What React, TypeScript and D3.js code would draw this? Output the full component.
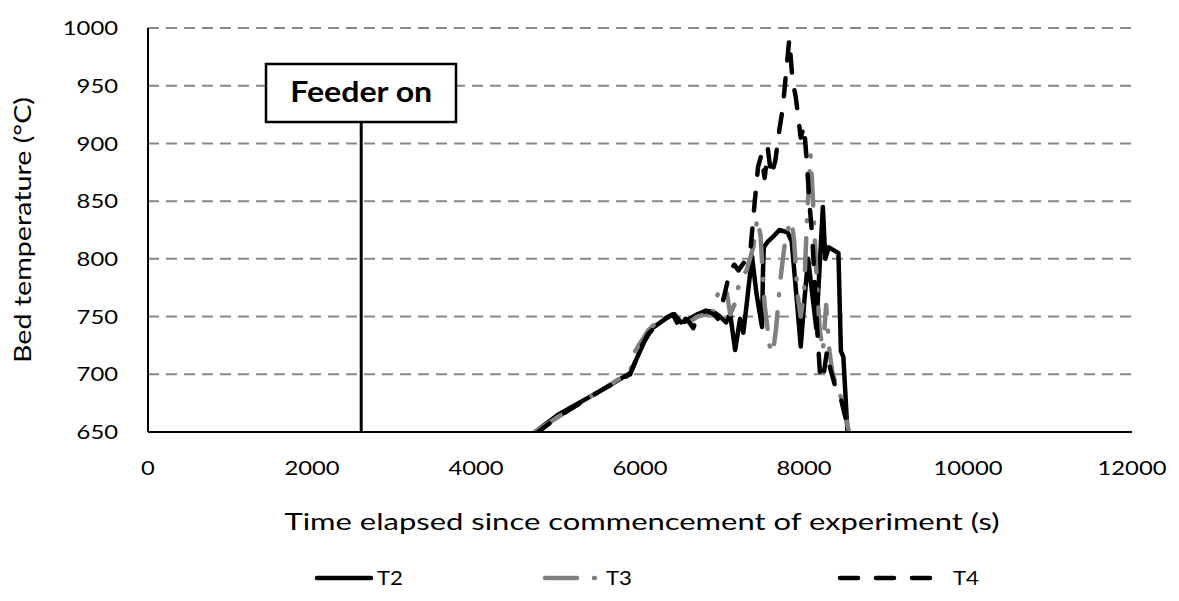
import React from "react";
import * as d3 from "d3";

// ---- data ----
const xTicks = [0, 2000, 4000, 6000, 8000, 10000, 12000];
const yTicks = [650, 700, 750, 800, 850, 900, 950, 1000];
const feederTime = 2600;
const feederLabel = "Feeder on";
const xTitle = "Time elapsed since commencement of experiment (s)";
const yTitle = "Bed temperature (°C)";

const t2Time = [4720, 5000, 5500, 5880, 5950, 6050, 6150, 6250, 6350, 6420, 6500, 6600, 6700, 6800, 6900, 6976, 7050, 7100, 7160, 7220, 7260, 7300, 7366, 7420, 7488, 7500, 7510, 7560, 7620, 7700, 7800, 7850, 7920, 7960, 8000, 8050, 8100, 8150, 8230, 8260, 8300, 8350, 8420, 8450, 8480, 8530];
const t2Temp = [650, 665, 685, 701, 712, 728, 740, 745, 750, 752, 745, 748, 752, 755, 754, 750, 745, 752, 721, 748, 736, 760, 802, 770, 741, 790, 810, 815, 819, 825, 823, 815, 758, 724, 760, 800, 770, 740, 845, 800, 810, 808, 805, 720, 715, 650];

const t3Time = [4720, 5000, 5500, 5880, 5940, 6000, 6100, 6200, 6300, 6420, 6500, 6600, 6700, 6800, 6900, 6950, 7010, 7060, 7100, 7150, 7220, 7300, 7380, 7430, 7470, 7520, 7580, 7620, 7660, 7707, 7760, 7800, 7850, 7880, 7920, 7960, 8000, 8040, 8080, 8110, 8150, 8190, 8230, 8270, 8310, 8350, 8400, 8450, 8500, 8550];
const t3Temp = [650, 663, 685, 702, 720, 727, 738, 745, 748, 752, 750, 745, 750, 752, 755, 770, 776, 770, 752, 760, 782, 790, 810, 835, 820, 760, 725, 718, 740, 779, 810, 825, 833, 815, 770, 750, 770, 840, 890, 850, 790, 740, 720, 760, 720, 700, 690, 680, 665, 650];

const t4Time = [4720, 5000, 5500, 5880, 5950, 6000, 6100, 6200, 6300, 6400, 6450, 6500, 6560, 6600, 6650, 6700, 6800, 6900, 6950, 7000, 7050, 7100, 7150, 7200, 7250, 7300, 7350, 7400, 7440, 7480, 7520, 7560, 7600, 7650, 7700, 7740, 7780, 7820, 7860, 7900, 7960, 8000, 8030, 8070, 8100, 8130, 8160, 8200, 8240, 8280, 8320, 8380, 8430, 8480, 8560];
const t4Temp = [648, 663, 685, 700, 712, 722, 735, 742, 748, 752, 745, 738, 748, 745, 740, 750, 755, 752, 748, 760, 775, 790, 795, 790, 795, 800, 810, 850, 880, 890, 870, 895, 872, 885, 912, 930, 960, 990, 955, 940, 905, 915, 888, 845, 820, 780, 740, 695, 700, 720, 705, 690, 685, 670, 648];

const seriesNames = ["T2", "T3", "T4"];

// ---- layout ----
const W = 1179, H = 601;
const plot = { left: 148, right: 1132, top: 28, bottom: 432 };
const FONT = "Lato, 'Open Sans', sans-serif";
const DIGIT_W = 13.8;

export default function App() {
  const x = d3.scaleLinear().domain([0, 12000]).range([plot.left, plot.right]);
  const y = d3.scaleLinear().domain([650, 1000]).range([plot.bottom, plot.top]);
  const line = d3
    .line<[number, number]>()
    .x((d) => x(d[0]))
    .y((d) => y(d[1]));

  const series = [
    { name: seriesNames[0], pts: t2Time.map((t, i) => [t, t2Temp[i]] as [number, number]), color: "#000", dash: undefined as string | undefined },
    { name: seriesNames[1], pts: t3Time.map((t, i) => [t, t3Temp[i]] as [number, number]), color: "#808080", dash: "32 17 1 17" },
    { name: seriesNames[2], pts: t4Time.map((t, i) => [t, t4Temp[i]] as [number, number]), color: "#000", dash: "18 18" },
  ];

  const legendItems = [
    { x1: 317, x2: 371, tx: 377 },
    { x1: 545, x2: 598, tx: 606 },
    { x1: 840, x2: 940, tx: 953 },
  ];
  const legendY = 578;

  const fx = x(feederTime);

  return (
    <div style={{ position: "absolute", left: 0, top: 0 }}>
      <svg width={W} height={H} style={{ display: "block", background: "#fff" }}>
        <defs>
          <clipPath id="plotClip">
            <rect x={plot.left} y={plot.top - 10} width={plot.right - plot.left} height={plot.bottom - plot.top + 10} />
          </clipPath>
        </defs>
        {/* gridlines */}
        {yTicks.filter((v) => v > 650).map((v) => (
          <line key={v} x1={plot.left} x2={plot.right} y1={y(v)} y2={y(v)} stroke="#878787" strokeWidth={2} strokeDasharray="11 7" />
        ))}
        {/* feeder line */}
        <line x1={fx} x2={fx} y1={122} y2={plot.bottom} stroke="#000" strokeWidth={3} />
        {/* series */}
        <g clipPath="url(#plotClip)">
          {series.map((s) => (
            <path key={s.name} d={line(s.pts) || ""} fill="none" stroke={s.color} strokeWidth={4.5} strokeDasharray={s.dash} strokeLinecap="round" strokeLinejoin="round" />
          ))}
        </g>
        {/* axes */}
        <line x1={plot.left} x2={plot.left} y1={plot.top} y2={plot.bottom} stroke="#000" strokeWidth={2} />
        <line x1={plot.left} x2={plot.right} y1={plot.bottom} y2={plot.bottom} stroke="#000" strokeWidth={2} />
        {yTicks.map((v) => (
          <text key={v} x={118} y={y(v)} dy="0.36em" textAnchor="end" fontFamily={FONT} fontSize={20} fill="#000"
            textLength={String(v).length * DIGIT_W} lengthAdjust="spacingAndGlyphs">{v}</text>
        ))}
        {xTicks.map((v) => (
          <text key={v} x={x(v)} y={468} dy="0.36em" textAnchor="middle" fontFamily={FONT} fontSize={20} fill="#000"
            textLength={String(v).length * DIGIT_W} lengthAdjust="spacingAndGlyphs">{v}</text>
        ))}
        <text x={642} y={522} dy="0.36em" textAnchor="middle" fontFamily={FONT} fontSize={23} fill="#000"
          textLength={715} lengthAdjust="spacingAndGlyphs">{xTitle}</text>
        <text transform={`translate(23,230) rotate(-90)`} dy="0.36em" textAnchor="middle" fontFamily={FONT} fontSize={23} fill="#000"
          textLength={266} lengthAdjust="spacingAndGlyphs">{yTitle}</text>
        {/* feeder label */}
        <rect x={266} y={64} width={190} height={58} fill="#fff" stroke="#000" strokeWidth={2.5} />
        <text x={fx} y={92} dy="0.36em" textAnchor="middle" fontFamily={FONT} fontSize={29} fontWeight="bold" fill="#000"
          textLength={142} lengthAdjust="spacingAndGlyphs">{feederLabel}</text>
        {/* legend */}
        {series.map((s, i) => (
          <g key={s.name}>
            <line x1={legendItems[i].x1} x2={legendItems[i].x2} y1={legendY} y2={legendY} stroke={s.color} strokeWidth={4.5} strokeDasharray={s.dash} strokeLinecap="round" />
            <text x={legendItems[i].tx} y={legendY} dy="0.36em" fontFamily={FONT} fontSize={20} fill="#000"
              textLength={26} lengthAdjust="spacingAndGlyphs">{s.name}</text>
          </g>
        ))}
      </svg>
    </div>
  );
}
